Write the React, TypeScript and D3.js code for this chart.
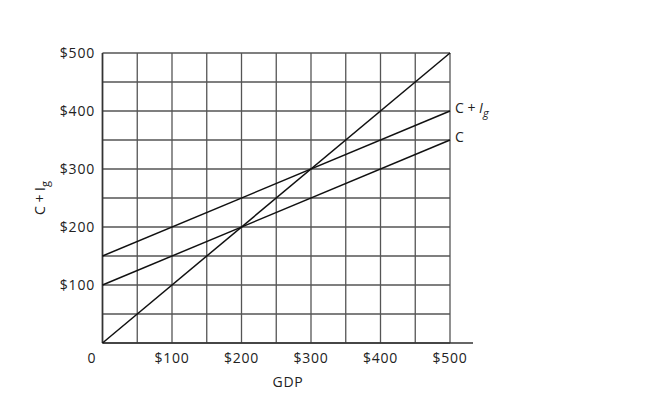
import React from "react";
import * as d3 from "d3";

const xTicks = [100, 200, 300, 400, 500];
const yTicks = [100, 200, 300, 400, 500];
const gridSteps = [0, 50, 100, 150, 200, 250, 300, 350, 400, 450, 500];
const gdp = [0, 500];
const lineFortyFive = [0, 500];
const lineC = [100, 350];
const lineCIg = [150, 400];

const W = 653;
const H = 402;
const FONT = "'Open Sans', sans-serif";
const FS = 14;
const LS = 0.8;

export default function App() {
  const x = d3.scaleLinear().domain([0, 500]).range([102.5, 450]);
  const y = d3.scaleLinear().domain([0, 500]).range([343, 53]);
  const line = d3
    .line<[number, number]>()
    .x((d) => x(d[0]))
    .y((d) => y(d[1]));
  const series = [lineFortyFive, lineC, lineCIg].map((vals) =>
    gdp.map((g, i) => [g, vals[i]] as [number, number])
  );
  const money = (v: number) => `$${v}`;

  return (
    <svg
      width={W}
      height={H}
      style={{ position: "absolute", left: 0, top: 0, background: "#fff" }}
      fontFamily={FONT}
    >
      {/* grid */}
      <g stroke="#555" strokeWidth={1.3}>
        {gridSteps.map((v) => (
          <line key={"v" + v} x1={x(v)} x2={x(v)} y1={y(0)} y2={y(500)} />
        ))}
        {gridSteps.map((v) => (
          <line key={"h" + v} x1={x(0)} x2={x(500)} y1={y(v)} y2={y(v)} />
        ))}
      </g>
      {/* axes */}
      <line x1={x(0)} x2={473} y1={y(0)} y2={y(0)} stroke="#333" strokeWidth={1.6} />
      <line x1={x(0)} x2={x(0)} y1={y(0)} y2={y(500)} stroke="#333" strokeWidth={1.6} />
      {/* data lines */}
      <g fill="none" stroke="#111" strokeWidth={1.5}>
        {series.map((s, i) => (
          <path key={i} d={line(s) || ""} />
        ))}
      </g>
      {/* y tick labels */}
      <g fontSize={FS} letterSpacing={LS} fill="#222" textAnchor="end">
        {yTicks.map((v) => (
          <text key={v} x={95} y={y(v)} dy="0.35em">
            {money(v)}
          </text>
        ))}
      </g>
      {/* x tick labels */}
      <g fontSize={FS} letterSpacing={LS} fill="#222" textAnchor="middle">
        <text x={92} y={358} dy="0.35em">0</text>
        {xTicks.map((v) => (
          <text key={v} x={x(v)} y={358} dy="0.35em">
            {money(v)}
          </text>
        ))}
      </g>
      {/* axis titles */}
      <text x={288} y={382} dy="0.35em" fontSize={FS} letterSpacing={LS} fill="#222" textAnchor="middle">
        GDP
      </text>
      <text
        transform={`translate(40,${(y(0) + y(500)) / 2}) rotate(-90)`}
        fontSize={FS}
        fill="#222"
        textAnchor="middle"
        dy="0.35em"
      >
        C + I<tspan fontSize={11} dy={4}>g</tspan>
      </text>
      {/* line labels */}
      <text x={455} y={y(400) - 3} dy="0.35em" fontSize={FS} fill="#222">
        C + <tspan fontStyle="italic">I</tspan>
        <tspan fontStyle="italic" fontSize={11} dy={4}>g</tspan>
      </text>
      <text x={455} y={y(350) - 3} dy="0.35em" fontSize={FS} fill="#222">
        C
      </text>
    </svg>
  );
}
